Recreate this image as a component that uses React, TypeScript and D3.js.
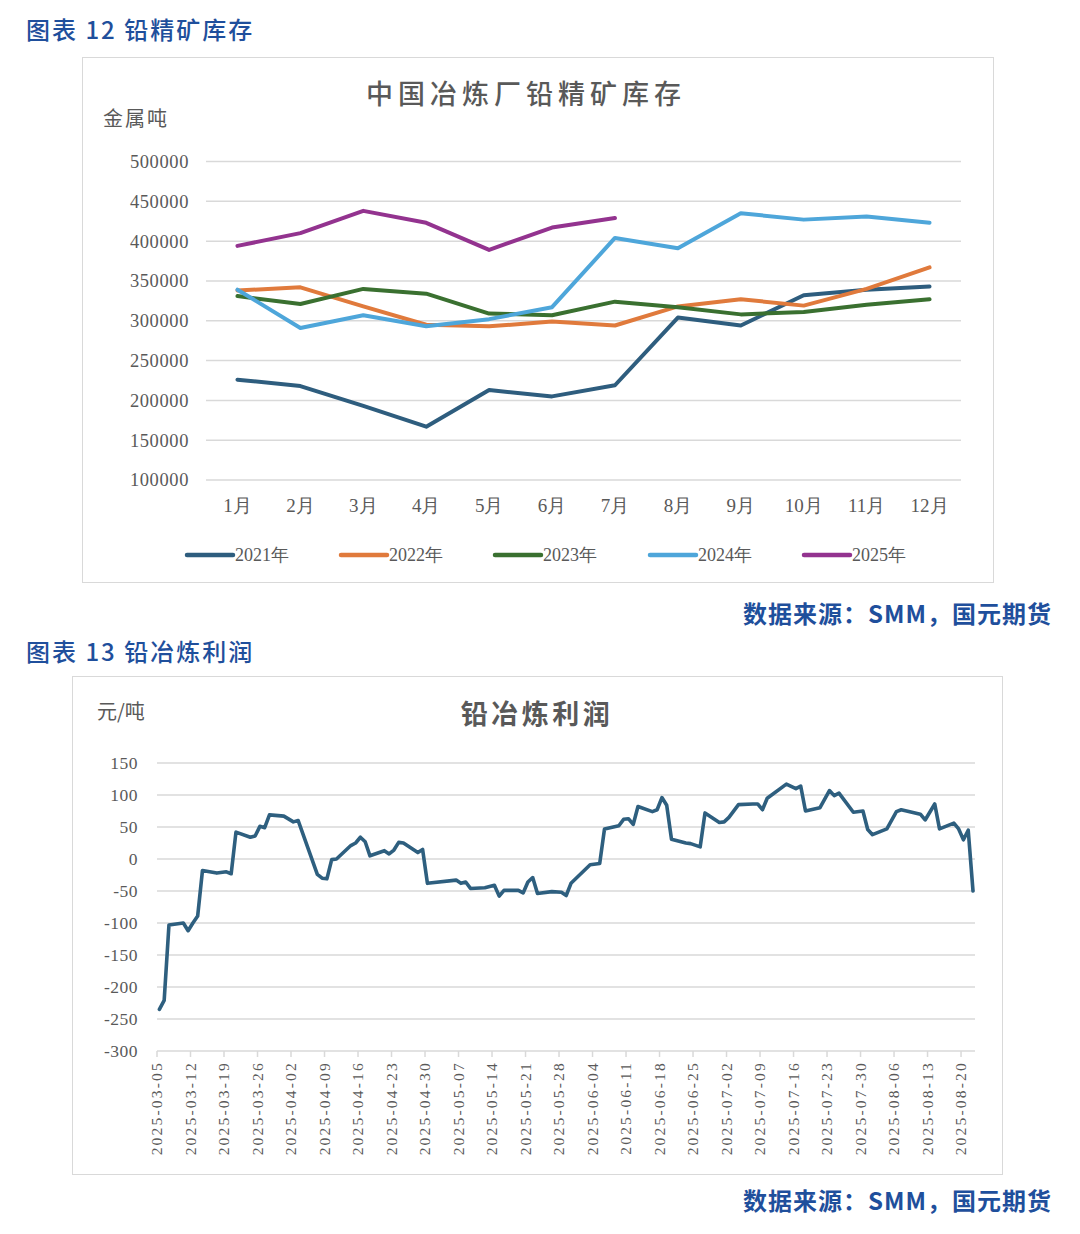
import * as d3 from "d3";

// ---- chart 12: lead concentrate inventory at smelters (metal tons) ----
const months = ["1月", "2月", "3月", "4月", "5月", "6月", "7月", "8月", "9月", "10月", "11月", "12月"];
const years = ["2021年", "2022年", "2023年", "2024年", "2025年"];
const inv2021 = [226000, 218000, 193000, 167000, 213000, 205000, 219000, 304000, 294000, 332000, 339000, 343000];
const inv2022 = [338000, 342000, 318000, 295000, 293000, 299000, 294000, 318000, 327000, 319000, 340000, 367000];
const inv2023 = [331000, 321000, 340000, 334000, 309000, 307000, 324000, 317000, 308000, 311000, 320000, 327000];
const inv2024 = [339000, 291000, 307000, 293000, 302000, 317000, 404000, 391000, 435000, 427000, 431000, 423000];
const inv2025 = [394000, 410000, 438000, 423000, 389000, 417000, 429000];
const invTicks = [100000, 150000, 200000, 250000, 300000, 350000, 400000, 450000, 500000];
const yearColors = ["#2e5d7e", "#e07a3c", "#3a7030", "#4ea6da", "#93338f"];

// ---- chart 13: lead smelting profit (yuan/ton) ----
const profitDates = [
  "2025-03-05", "2025-03-06", "2025-03-07", "2025-03-10", "2025-03-11", "2025-03-12", "2025-03-13", "2025-03-14",
  "2025-03-17", "2025-03-19", "2025-03-20", "2025-03-21", "2025-03-24", "2025-03-25", "2025-03-26", "2025-03-27",
  "2025-03-28", "2025-03-31", "2025-04-02", "2025-04-03", "2025-04-07", "2025-04-08", "2025-04-09", "2025-04-10",
  "2025-04-11", "2025-04-14", "2025-04-15", "2025-04-16", "2025-04-17", "2025-04-18", "2025-04-21", "2025-04-22",
  "2025-04-23", "2025-04-24", "2025-04-25", "2025-04-28", "2025-04-29", "2025-04-30", "2025-05-06", "2025-05-07",
  "2025-05-08", "2025-05-09", "2025-05-12", "2025-05-14", "2025-05-15", "2025-05-16", "2025-05-19", "2025-05-20",
  "2025-05-21", "2025-05-22", "2025-05-23", "2025-05-26", "2025-05-28", "2025-05-29", "2025-05-30", "2025-06-03",
  "2025-06-05", "2025-06-06", "2025-06-09", "2025-06-10", "2025-06-11", "2025-06-12", "2025-06-13", "2025-06-16",
  "2025-06-17", "2025-06-18", "2025-06-19", "2025-06-20", "2025-06-23", "2025-06-24", "2025-06-26", "2025-06-27",
  "2025-06-30", "2025-07-01", "2025-07-02", "2025-07-04", "2025-07-07", "2025-07-08", "2025-07-09", "2025-07-10",
  "2025-07-14", "2025-07-16", "2025-07-17", "2025-07-18", "2025-07-21", "2025-07-23", "2025-07-24", "2025-07-25",
  "2025-07-28", "2025-07-30", "2025-07-31", "2025-08-01", "2025-08-04", "2025-08-06", "2025-08-07", "2025-08-11",
  "2025-08-12", "2025-08-14", "2025-08-15", "2025-08-18", "2025-08-19", "2025-08-20", "2025-08-21", "2025-08-22",
];
const profitValues = [
  -235, -221, -103, -100, -112, -100, -89, -18,
  -22, -20, -23, 42, 34, 36, 51, 49,
  69, 67, 58, 60, -24, -30, -31, -1,
  0, 21, 25, 34, 27, 5, 13, 8,
  14, 26, 25, 10, 15, -38, -33, -38,
  -36, -46, -45, -41, -58, -49, -49, -53,
  -36, -29, -54, -51, -52, -57, -38, -9,
  -7, 47, 52, 62, 63, 54, 82, 74,
  77, 96, 84, 31, 25, 24, 19, 72,
  57, 58, 65, 85, 86, 86, 77, 95,
  117, 110, 114, 75, 80, 107, 99, 103,
  73, 75, 46, 38, 47, 74, 77, 70,
  61, 86, 47, 56, 47, 30, 45, -50,
];
const profitTicks = [-300, -250, -200, -150, -100, -50, 0, 50, 100, 150];
const dateTickLabels = [
  "2025-03-05", "2025-03-12", "2025-03-19", "2025-03-26", "2025-04-02", "2025-04-09", "2025-04-16",
  "2025-04-23", "2025-04-30", "2025-05-07", "2025-05-14", "2025-05-21", "2025-05-28", "2025-06-04",
  "2025-06-11", "2025-06-18", "2025-06-25", "2025-07-02", "2025-07-09", "2025-07-16", "2025-07-23",
  "2025-07-30", "2025-08-06", "2025-08-13", "2025-08-20",
];

// a single family name; CJK glyphs fall back on their own
const serif = { fontFamily: "Liberation Serif" };
const sans = { fontFamily: "Noto Sans CJK SC" };
const grey = "#595959";
const gridCol = "#d9d9d9";
const blue = "#1f4f9c";

function InventoryChart() {
  const x = d3.scaleBand<string>().domain(months).range([206, 961]);
  const cx = (m: string) => (x(m) as number) + x.bandwidth() / 2;
  const y = d3.scaleLinear().domain([100000, 500000]).range([480, 161.5]);
  const series = [inv2021, inv2022, inv2023, inv2024, inv2025];
  const line = d3
    .line<number>()
    .x((_, i) => cx(months[i]))
    .y((d) => y(d));
  const legendX = [187, 341, 495, 650, 804];

  return (
    <g>
      <rect x={82.5} y={57.5} width={911} height={525} fill="#fff" stroke={gridCol} />
      <text x={526} y={104} textAnchor="middle" style={sans} fontSize={27} fontWeight={500} letterSpacing={5} fill={grey}>
        中国冶炼厂铅精矿库存
      </text>
      <text x={103} y={126} style={sans} fontSize={20} letterSpacing={2} fill={grey}>
        金属吨
      </text>
      {invTicks.map((t) => (
        <g key={t}>
          <line x1={206} x2={961} y1={y(t)} y2={y(t)} stroke={gridCol} strokeWidth={1.5} />
          <text x={189} y={y(t)} dy="0.35em" textAnchor="end" style={serif} fontSize={18.5} letterSpacing={0.6} fill={grey}>
            {t}
          </text>
        </g>
      ))}
      {months.map((m) => (
        <text key={m} x={cx(m)} y={512} textAnchor="middle" style={serif} fontSize={19} fill={grey}>
          {m}
        </text>
      ))}
      {series.map((s, i) => (
        <path key={years[i]} d={line(s) as string} fill="none" stroke={yearColors[i]} strokeWidth={4} strokeLinejoin="round" strokeLinecap="round" />
      ))}
      {years.map((yr, i) => (
        <g key={yr}>
          <line x1={legendX[i]} x2={legendX[i] + 46} y1={555} y2={555} stroke={yearColors[i]} strokeWidth={4.5} strokeLinecap="round" />
          <text x={legendX[i] + 48} y={561} style={serif} fontSize={18} fill={grey}>
            {yr}
          </text>
        </g>
      ))}
    </g>
  );
}

function ProfitChart() {
  const parse = d3.timeParse("%Y-%m-%d");
  const start = parse(dateTickLabels[0]) as Date;
  const end = d3.timeDay.offset(parse(profitDates[profitDates.length - 1]) as Date, 1);
  const x = d3.scaleTime().domain([start, end]).range([157, 975.4]);
  const y = d3.scaleLinear().domain([-300, 150]).range([1051, 763]);
  // points sit in the middle of their day slot
  const pts = profitDates.map((d, i) => ({ date: d3.timeHour.offset(parse(d) as Date, 12), v: profitValues[i] }));
  const line = d3
    .line<{ date: Date; v: number }>()
    .x((d) => x(d.date))
    .y((d) => y(d.v));

  return (
    <g>
      <rect x={72.5} y={676.5} width={930} height={498} fill="#fff" stroke={gridCol} />
      <text x={537} y={724} textAnchor="middle" style={sans} fontSize={27} fontWeight={700} letterSpacing={3.5} fill={grey}>
        铅冶炼利润
      </text>
      <text x={97} y={719} style={sans} fontSize={20} fill={grey}>
        元/吨
      </text>
      {profitTicks.map((t) => (
        <g key={t}>
          <line x1={157} x2={975} y1={y(t)} y2={y(t)} stroke={gridCol} strokeWidth={1.5} />
          <text x={138} y={y(t)} dy="0.35em" textAnchor="end" style={serif} fontSize={17.5} letterSpacing={0.5} fill={grey}>
            {t}
          </text>
        </g>
      ))}
      {dateTickLabels.map((lab) => {
        const tx = x(parse(lab) as Date);
        return (
          <g key={lab}>
            <line x1={tx} x2={tx} y1={y(-300)} y2={y(-300) + 6} stroke={gridCol} strokeWidth={1.5} />
            <text
              transform={`translate(${tx},1061) rotate(-90)`}
              dy="0.35em"
              textAnchor="end"
              style={serif}
              fontSize={15.5}
              letterSpacing={2.2}
              fill={grey}
            >
              {lab}
            </text>
          </g>
        );
      })}
      <path d={line(pts) as string} fill="none" stroke="#2e5f7f" strokeWidth={3.6} strokeLinejoin="round" strokeLinecap="round" />
    </g>
  );
}

export default function App() {
  return (
    <div style={{ position: "absolute", left: 0, top: 0 }}>
      <svg width={1080} height={1234} viewBox="0 0 1080 1234" style={{ display: "block", background: "#fff" }}>
        <text x={26} y={39} style={sans} fontSize={24} fontWeight={500} letterSpacing={2} fill={blue}>
          图表 12 铅精矿库存
        </text>
        <InventoryChart />
        <text x={1052} y={623} textAnchor="end" style={sans} fontSize={24} fontWeight={700} letterSpacing={1} fill={blue}>
          数据来源：SMM，国元期货
        </text>
        <text x={26} y={661} style={sans} fontSize={24} fontWeight={500} letterSpacing={2} fill={blue}>
          图表 13 铅冶炼利润
        </text>
        <ProfitChart />
        <text x={1052} y={1210} textAnchor="end" style={sans} fontSize={24} fontWeight={700} letterSpacing={1} fill={blue}>
          数据来源：SMM，国元期货
        </text>
      </svg>
    </div>
  );
}
